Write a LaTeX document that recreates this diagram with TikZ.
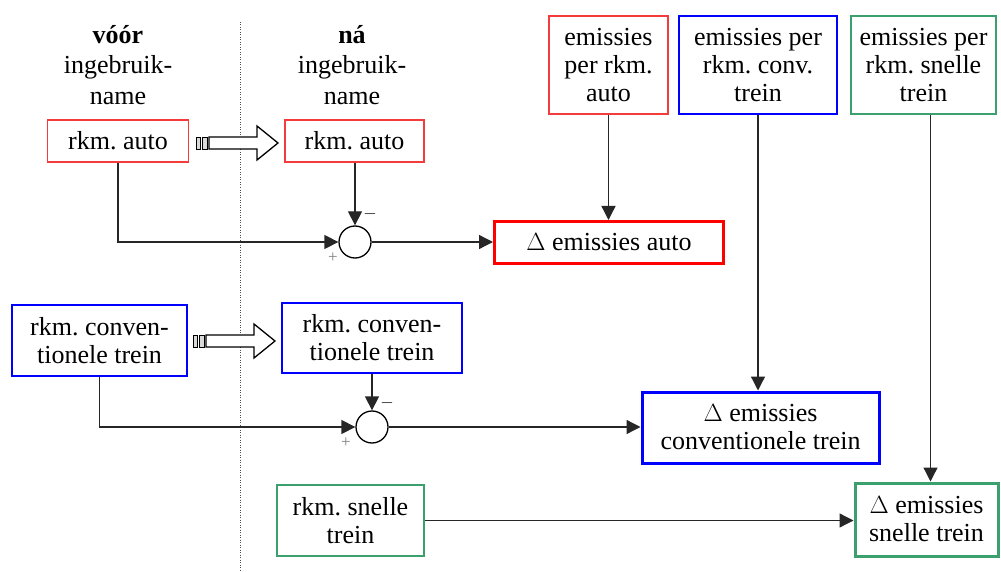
\documentclass[tikz,border=0pt]{standalone}
\usepackage{fontspec}
\setmainfont{Liberation Serif}
\usetikzlibrary{arrows.meta}
\definecolor{bred}{RGB}{255,0,0}
\definecolor{lred}{RGB}{245,60,60}
\definecolor{bblue}{RGB}{0,0,255}
\definecolor{bgreen}{RGB}{60,160,110}
\begin{document}
\frenchspacing
\begin{tikzpicture}[x=1pt,y=-1pt,
  every node/.style={font=\fontsize{26pt}{28pt}\selectfont},
  box/.style={draw=#1,line width=1.4pt,align=center,inner sep=0pt},
  tbox/.style={draw=#1,line width=3pt,align=center,inner sep=0pt},
  hdr/.style={align=center,font=\fontsize{26pt}{30.5pt}\selectfont},
  conn/.style={line width=1.3pt,draw=black!85},
  arr/.style={conn,-{Triangle[length=14pt,width=14pt]}},
  sumc/.style={circle,draw,line width=1.3pt,minimum size=32pt,inner sep=0pt},
  sign/.style={font=\fontsize{17pt}{17pt}\selectfont,inner sep=0pt},
  blockarrow/.pic={
    \draw[line width=0.8pt,fill=black!15] (0,-6) rectangle (4,6);
    \draw[line width=0.8pt,fill=black!15] (6,-6) rectangle (11,6);
    \draw[line width=1.3pt,line join=miter,fill=white] (13,-6) -- (61,-6) -- (61,-17) -- (82,0) -- (61,17) -- (61,6) -- (13,6) -- cycle;
  }]
\useasboundingbox (0,0) rectangle (1001,572);

% divider
\draw[black!70,line width=1pt,dash pattern=on 1pt off 1.5pt] (240,22) -- (240,572);

% headers
\node[hdr] (hv) at (118,65) {\textbf{vóór}\\ingebruik-\\name};
\node[hdr] (hn) at (352,65) {\textbf{ná}\\ingebruik-\\name};

% boxes
\node[box=lred,minimum width=141pt,minimum height=42pt] (avL) at (118,141) {rkm. auto};
\node[box=lred,minimum width=139pt,minimum height=42pt] (avN) at (354.5,141) {rkm. auto};
\node[box=lred,minimum width=119pt,minimum height=98pt] (epA) at (608.5,65) {emissies\\per rkm.\\auto};
\node[box=bblue,minimum width=158pt,minimum height=98pt] (epC) at (758,65) {emissies per\\rkm. conv.\\trein};
\node[box=bgreen,minimum width=145pt,minimum height=98pt] (epS) at (923.5,65) {emissies per\\rkm. snelle\\trein};
\node[tbox=bred,minimum width=229pt,minimum height=42pt] (dA) at (609,242.5) {$\Delta$ emissies auto};
\node[box=bblue,minimum width=175pt,minimum height=71pt] (ctL) at (99.5,340.5) {rkm. conven-\\tionele trein};
\node[box=bblue,minimum width=180pt,minimum height=70pt] (ctN) at (372,338) {rkm. conven-\\tionele trein};
\node[tbox=bblue,minimum width=237pt,minimum height=71pt] (dC) at (760.5,427.5) {$\Delta$ emissies\\conventionele trein};
\node[box=bgreen,minimum width=147pt,minimum height=71pt] (stN) at (350.5,520.5) {rkm. snelle\\trein};
\node[tbox=bgreen,minimum width=143pt,minimum height=73pt] (dS) at (926.5,519.5) {$\Delta$ emissies\\snelle trein};

% summing junctions
\node[sumc] (c1) at (355,242) {};
\node[sumc] (c2) at (372,427) {};
\node[sign] (m1) at (370,214) {$-$};
\node[sign,text=black!50] (p1) at (333,258) {+};
\node[sign] (m2) at (387,403) {$-$};
\node[sign,text=black!50] (p2) at (346,443) {+};

% block arrows
\pic at (196,143) {blockarrow};
\pic at (193,341) {blockarrow};

% connectors
\draw[arr] (c1.north |- avN.south) -- (c1.north);
\draw[arr] (avL.south) |- (c1.west);
\draw[arr] (c1.east) -- (dA.west |- c1.east);
\draw[arr] (epA.south) -- (epA.south |- dA.north);

\draw[arr] (c2.north |- ctN.south) -- (c2.north);
\draw[arr] (ctL.south) |- (c2.west);
\draw[arr] (c2.east) -- (dC.west |- c2.east);
\draw[arr] (epC.south) -- (epC.south |- dC.north);

\coordinate (sS) at ([xshift=7pt]epS.south);
\draw[arr] (sS) -- (sS |- dS.north);
\draw[arr] (stN.east) -- (dS.west |- stN.east);
\end{tikzpicture}
\end{document}
